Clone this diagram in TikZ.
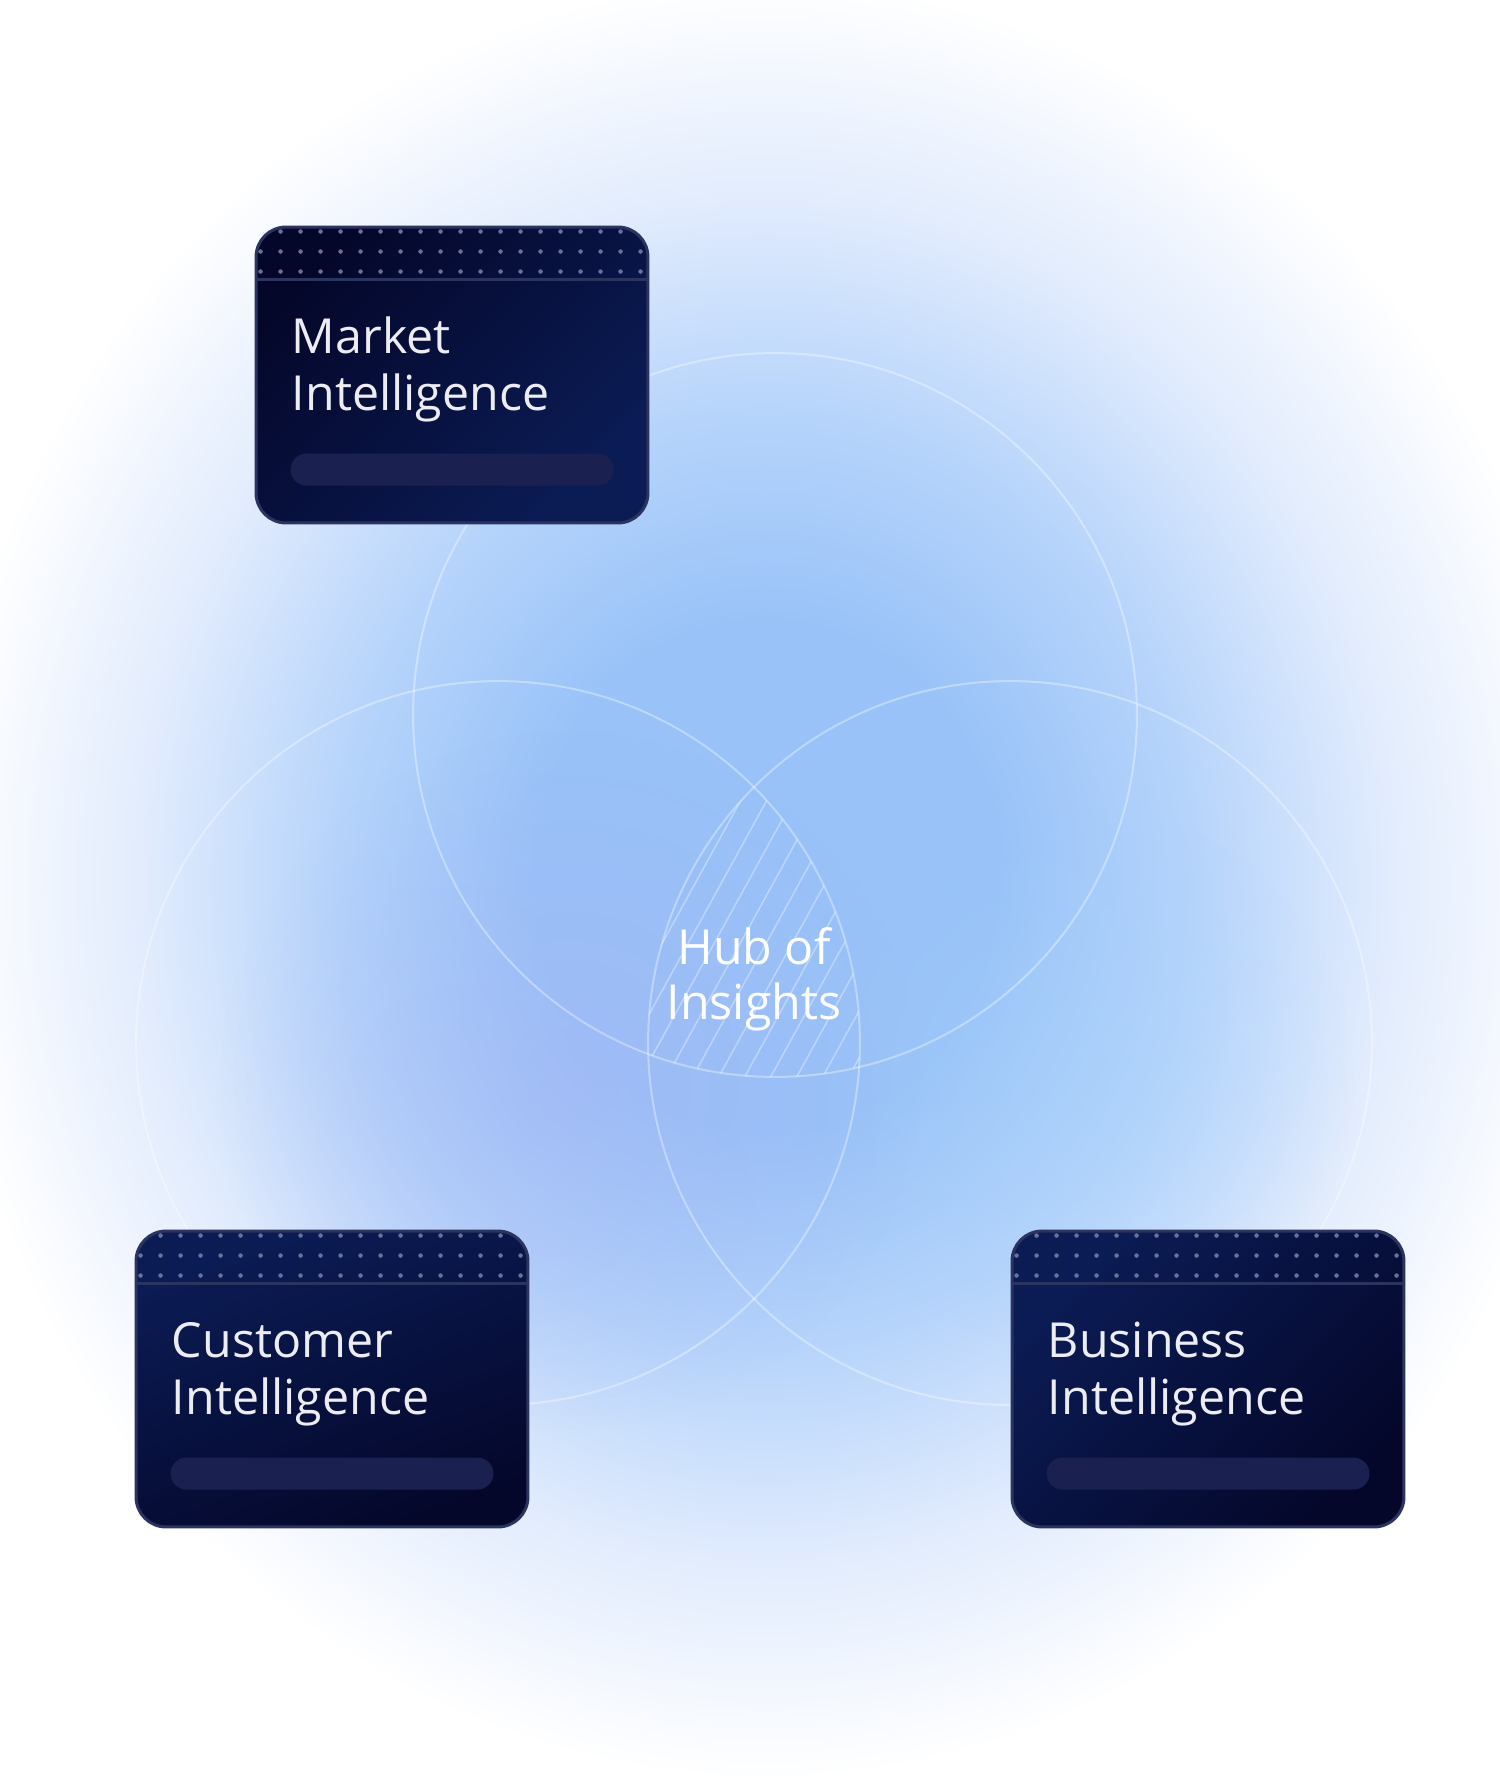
\documentclass[tikz,border=0pt]{standalone}
\usepackage{fontspec}
\setmainfont{Open Sans}
\usetikzlibrary{calc,fadings}

\definecolor{glowA}{HTML}{98C2F8}
\definecolor{glowB}{HTML}{B6D4FB}
\definecolor{glowD}{HTML}{E2ECFD}
\definecolor{glowP}{HTML}{A4B4F4}
\definecolor{glowC}{HTML}{A6D2FC}
\definecolor{cardDark}{HTML}{04072A}
\definecolor{cardLight}{HTML}{0B1C55}
\definecolor{cardEdge}{HTML}{2B335F}
\definecolor{dotGrey}{HTML}{6A729C}
\definecolor{barFill}{HTML}{1A2150}
\definecolor{titleText}{HTML}{ECECF2}

\pgfdeclareradialshading{glowshade}{\pgfpoint{0bp}{0bp}}{color(0bp)=(glowA); color(7bp)=(glowA); color(13bp)=(glowB); color(19bp)=(glowD); color(25bp)=(white); color(50bp)=(white)}
\tikzfading[name=softfade, inner color=transparent!0, outer color=transparent!100]

\begin{document}
\begin{tikzpicture}[x=0.02cm, y=-0.02cm,
	card/.style={rectangle, rounded corners=0.6cm, minimum width=7.84cm, minimum height=5.92cm,
		draw=cardEdge, line width=0.06cm},
	title/.style={anchor=base west, text=titleText, inner sep=0pt, font=\fontsize{27.5}{33}\selectfont},
	hub/.style={anchor=base, text=white, inner sep=0pt, font=\fontsize{27.5}{33}\selectfont},
	ring/.style={draw=white, draw opacity=0.35, line width=0.04cm},
	hatch/.style={draw=white, draw opacity=0.35, line width=0.03cm}]
	\useasboundingbox (0,0) rectangle (1500,1791);
	\fill[white] (0,0) rectangle (1500,1791);

	% background glow
	\shade[shading=glowshade] (765,880) ellipse (16.5cm and 18cm);
	\fill[glowP, path fading=softfade, opacity=0.55] (570,1080) circle (7cm);
	\fill[glowC, path fading=softfade, opacity=0.45] (1080,1080) circle (5.5cm);

	% three circles
	\coordinate (top) at (775,715);
	\coordinate (left) at (498,1043);
	\coordinate (right) at (1010,1043);
	\draw[ring] (top) circle (7.24cm);
	\draw[ring] (left) circle (7.24cm);
	\draw[ring] (right) circle (7.24cm);

	% hatched overlap
	\begin{scope}
		\clip (top) circle (7.24cm);
		\clip (left) circle (7.24cm);
		\clip (right) circle (7.24cm);
		\foreach \x in {420,446,...,860}
			\draw[hatch] (\x,1100) -- ++(187,-340);
	\end{scope}

	\node[hub] (hub1) at (754,964) {Hub of};
	\node[hub] (hub2) at (754,1019) {Insights};

	% cards
	\node[card, left color=cardDark, right color=cardLight, shading angle=45] (market) at (452,375) {};
	\node[card, left color=cardLight, right color=cardDark, shading angle=20] (customer) at (332,1379) {};
	\node[card, left color=cardLight, right color=cardDark, shading angle=45] (business) at (1208,1379) {};

	\foreach \c/\one in {market/Market, customer/Customer, business/Business} {
		\begin{scope}
			\clip[rounded corners=0.6cm] (\c.south west) rectangle (\c.north east);
			\foreach \r in {6,26,46}
				\foreach \k in {6,26,...,390}
					\fill[dotGrey] ($(\c.north west)+(\k,\r)$) circle (0.045cm);
			\draw[cardEdge, line width=0.05cm] ($(\c.north west)+(0,54)$) -- ($(\c.north east)+(0,54)$);
		\end{scope}
		\fill[barFill, rounded corners=0.32cm] ($(\c.north west)+(36,228)$) rectangle ($(\c.north east)+(-36,260)$);
		\node[title] (\c-l1) at ($(\c.north west)+(37,128)$) {\one};
		\node[title] (\c-l2) at ($(\c.north west)+(37,185)$) {Intelligence};
	}
\end{tikzpicture}
\end{document}
